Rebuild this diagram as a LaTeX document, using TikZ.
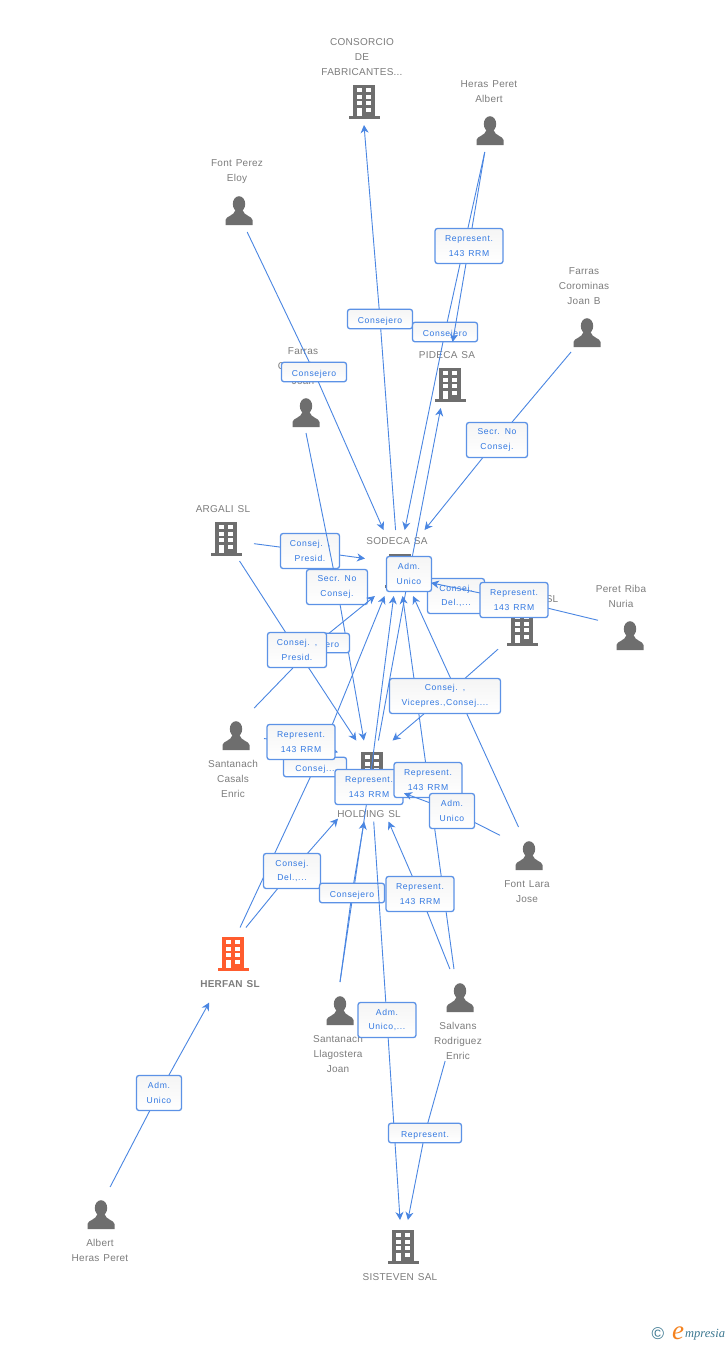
\documentclass[tikz,border=0pt]{standalone}
\usepackage{fontspec}
\usepackage{xcolor}
\setmainfont{Liberation Sans}[LetterSpace=2.5,WordSpace=1.3]
\newfontfamily\labelfont{Liberation Sans}[LetterSpace=7.5,WordSpace=1.3]
\newfontfamily\logofont{Liberation Serif}
\usetikzlibrary{arrows.meta}
\definecolor{linkblue}{RGB}{74,134,226}
\definecolor{boxblue}{RGB}{92,146,230}
\definecolor{textblue}{RGB}{50,120,225}
\definecolor{icongrey}{RGB}{110,110,110}
\definecolor{capgrey}{RGB}{125,125,125}
\definecolor{iconorange}{RGB}{255,92,46}
\definecolor{logoteal}{RGB}{60,120,145}
\definecolor{logoorange}{RGB}{245,130,30}
\tikzstyle{hub} = [rectangle, inner sep=0pt, outer sep=0pt]
\tikzstyle{caption} = [align=center, inner sep=0pt, text=capgrey, font=\fontsize{10}{15}\selectfont]
\tikzstyle{arrow} = [line width=0.9pt,-{Stealth[length=8pt,width=8pt,inset=2.5pt]},color=linkblue]
\tikzstyle{relation} = [rectangle, rounded corners=2.5pt, minimum height=35pt, inner sep=0pt, align=center, draw=boxblue, line width=1.3pt, top color=black!4, bottom color=white, text=textblue, font=\labelfont\fontsize{8.6}{14.6}\selectfont, execute at begin node={\rule{0pt}{10pt}}]
\tikzstyle{single} = [relation, minimum height=19.5pt]
\newcommand{\persona}[2]{
  \fill[icongrey] (#1,#2-7) ellipse (6.2 and 7.8);
  \fill[icongrey] (#1-13.5,#2+14) -- (#1-13.5,#2+9) .. controls (#1-13,#2+5) and (#1-5,#2+5) .. (#1-3.5,#2-1)
    -- (#1+3.5,#2-1) .. controls (#1+5,#2+5) and (#1+13,#2+5) .. (#1+13.5,#2+9) -- (#1+13.5,#2+14) -- cycle;
}
\newcommand{\tower}[3]{
  \fill[#3] (#1-11,#2-17) rectangle (#1+11,#2+15);
  \fill[#3] (#1-15.5,#2+14) rectangle (#1+15.5,#2+16.5);
  \foreach \wy in {-14,-7.5,-1}{
    \fill[white] (#1-7,#2+\wy) rectangle (#1-2,#2+\wy+4);
    \fill[white] (#1+2,#2+\wy) rectangle (#1+7,#2+\wy+4);
  }
  \fill[white] (#1-7,#2+6) rectangle (#1-2,#2+14);
  \fill[white] (#1+2,#2+6) rectangle (#1+7,#2+10);
}
\begin{document}
\begin{tikzpicture}[x=1pt,y=-1pt]
\useasboundingbox (0,0) rectangle (728,1345);
\fill[white] (0,0) rectangle (728,1345);

% Icons
\tower{364}{102}{icongrey}
\persona{490}{131}
\persona{239}{211}
\persona{587}{333}
\tower{450}{385}{icongrey}
\persona{306}{413}
\tower{226}{539}{icongrey}
\tower{400}{571}{icongrey}
\tower{522}{629}{icongrey}
\persona{630}{636}
\persona{236}{736}
\tower{372}{769}{icongrey}
\persona{529}{856}
\tower{233}{954}{iconorange}
\persona{340}{1011}
\persona{460}{998}
\persona{101}{1215}
\tower{403}{1247}{icongrey}

% Captions
\node (consorcioname) [caption] at (362,57) {CONSORCIO\\DE\\FABRICANTES...};
\node (herasname) [caption] at (489,91.5) {Heras Peret\\Albert};
\node (perezname) [caption] at (237,171.5) {Font Perez\\Eloy};
\node (farrasbname) [caption] at (584,286) {Farras\\Corominas\\Joan B};
\node (pidecaname) [caption] at (447,355) {PIDECA SA};
\node (farrasname) [caption] at (303,366) {Farras\\Corominas\\Joan};
\node (argaliname) [caption] at (223,509) {ARGALI SL};
\node (sodecaname) [caption] at (397,541) {SODECA SA};
\node (slname) [caption] at (552,599) {SL};
\node (peretname) [caption] at (621,596.5) {Peret Riba\\Nuria};
\node (casalsname) [caption] at (233,779) {Santanach\\Casals\\Enric};
\node (holdingname) [caption] at (369,814) {HOLDING SL};
\node (laraname) [caption] at (527,891.5) {Font Lara\\Jose};
\node (herfanname) [caption, font=\bfseries\fontsize{10}{15}\selectfont] at (230,984) {HERFAN SL};
\node (llagosteraname) [caption] at (338,1054) {Santanach\\Llagostera\\Joan};
\node (salvansname) [caption] at (458,1041) {Salvans\\Rodriguez\\Enric};
\node (albertname) [caption] at (100,1250.5) {Albert\\Heras Peret};
\node (sistevenname) [caption] at (400,1277) {SISTEVEN SAL};

% Entities
\node (consorcio) [hub, minimum width=80, minimum height=80] at (364,85) {};
\node (heras) [hub, minimum width=60, minimum height=74] at (488,115) {};
\node (perez) [hub, minimum width=60, minimum height=84] at (239,190) {};
\node (farrasb) [hub, minimum width=36, minimum height=38] at (587,333) {};
\node (pideca) [hub, minimum width=60, minimum height=66] at (447,375) {};
\node (farras) [hub, minimum width=60, minimum height=72] at (306,397) {};
\node (argali) [hub, minimum width=56, minimum height=42] at (226,540) {};
\node (sodeca) [hub, minimum width=66, minimum height=66] at (398,563) {};
\node (slfirm) [hub, minimum width=48, minimum height=48] at (522,628) {};
\node (peret) [hub, minimum width=64, minimum height=64] at (630,628) {};
\node (casals) [hub, minimum width=56, minimum height=56] at (236,736) {};
\node (holding) [hub, minimum width=66, minimum height=81] at (371,781) {};
\node (lara) [hub, minimum width=58, minimum height=46] at (529,850) {};
\node (herfan) [hub, minimum width=60, minimum height=75] at (230,965) {};
\node (llagostera) [hub, minimum width=60, minimum height=86] at (340,1025) {};
\node (salvans) [hub, minimum width=60, minimum height=92] at (458,1015) {};
\node (albert) [hub, minimum width=60, minimum height=56] at (101,1215) {};
\node (sisteven) [hub, minimum width=60, minimum height=60] at (402,1250) {};

% Relations above SODECA
\coordinate (c1) at (314,372);
\draw[arrow] (perez.-79) -- (c1) -- (sodeca);
\node (r1) [single, minimum width=65] at (c1) {Consejero};
\coordinate (c2) at (380,319);
\draw[arrow] (sodeca) -- (c2) -- (consorcio.south);
\node (r2) [single, minimum width=65] at (c2) {Consejero};
\coordinate (c3) at (445,332);
\draw[arrow] (heras.-95) -- (c3) -- (sodeca);
\node (r3) [single, minimum width=65] at (c3) {Consejero};
\coordinate (c4) at (469,246);
\draw[arrow] (heras.-95) -- (c4) -- (pideca);
\node (r4) [relation, minimum width=68] at (c4) {Represent.\\143 RRM};
\coordinate (c5) at (497,440);
\draw[arrow] (farrasb) -- (c5) -- (sodeca);
\node (r5) [relation, minimum width=61] at (c5) {Secr. No\\Consej.};
\coordinate (c6) at (310,551);
\draw[arrow] (argali) -- (c6) -- (sodeca);
\node (r6) [relation, minimum width=59] at (c6) {Consej. ,\\Presid.};
\coordinate (c7) at (337,587);
\draw[arrow] (farras.south) -- (c7) -- (holding);
\node (r7) [relation, minimum width=61] at (c7) {Secr. No\\Consej.};

% Relations around HOLDING
\coordinate (c8) at (317,643);
\draw[arrow] (casals.57) -- (c8) -- (sodeca.-125);
\node (r8) [single, minimum width=65] at (c8) {Consejero};
\coordinate (c9) at (297,650);
\draw[arrow] (argali) -- (c9) -- (holding.110);
\node (r9) [relation, minimum width=59] at (c9) {Consej. ,\\Presid.};
\coordinate (c10) at (315,767);
\draw[arrow] (herfan.75) -- (c10) -- (sodeca);
\node (r10) [single, minimum width=63] at (c10) {Consej...};
\coordinate (c11) at (301,742);
\draw[arrow] (casals) -- (c11) -- (holding.139);
\node (r11) [relation, minimum width=68] at (c11) {Represent.\\143 RRM};
\coordinate (c12) at (369,787);
\draw[arrow] (llagostera.north) -- (c12) -- (sodeca);
\node (r12) [relation, minimum width=68] at (c12) {Represent.\\143 RRM};
\coordinate (c13) at (428,780);
\draw[arrow] (salvans.95) -- (c13) -- (sodeca);
\node (r13) [relation, minimum width=68] at (c13) {Represent.\\143 RRM};
\draw[arrow] (lara) -- (sodeca);
\coordinate (c14) at (445,696);
\draw[arrow] (slfirm) -- (c14) -- (holding.62);
\node (r14) [relation, minimum width=111] at (c14) {Consej. ,\\Vicepres.,Consej....};
\coordinate (c15) at (452,811);
\draw[arrow] (lara) -- (c15) -- (holding);
\node (r15) [relation, minimum width=45] at (c15) {Adm.\\Unico};
\coordinate (c16) at (292,871);
\draw[arrow] (herfan.67) -- (c16) -- (holding);
\node (r16) [relation, minimum width=57] at (c16) {Consej.\\Del.,...};
\coordinate (c17) at (352,893);
\draw[arrow] (llagostera.north) -- (c17) -- (holding);
\node (r17) [single, minimum width=65] at (c17) {Consejero};
\coordinate (c18) at (420,894);
\draw[arrow] (salvans.100) -- (c18) -- (holding);
\node (r18) [relation, minimum width=68] at (c18) {Represent.\\143 RRM};

% Relations below
\coordinate (c19) at (387,1020);
\draw[arrow] (holding) -- (c19) -- (sisteven);
\node (r19) [relation, minimum width=58] at (c19) {Adm.\\Unico,...};
\coordinate (c20) at (425,1133);
\draw[arrow] (salvans) -- (c20) -- (sisteven);
\node (r20) [single, minimum width=73] at (c20) {Represent.};
\coordinate (c21) at (159,1093);
\draw[arrow] (albert.72) -- (c21) -- (herfan);
\node (r21) [relation, minimum width=45] at (c21) {Adm.\\Unico};

% Relations last on top
\coordinate (c22) at (456,596);
\draw[arrow] (slfirm) -- (c22) -- (sodeca.-31);
\node (r22) [relation, minimum width=57] at (c22) {Consej.\\Del.,...};
\coordinate (c23) at (409,574);
\draw[arrow] (holding) -- (c23) -- (pideca);
\node (r23) [relation, minimum width=45] at (c23) {Adm.\\Unico};
\coordinate (c24) at (514,600);
\draw[arrow] (peret) -- (c24) -- (sodeca.-31);
\node (r24) [relation, minimum width=68] at (c24) {Represent.\\143 RRM};

% Logo
\node (copyr) [inner sep=0pt, text=logoteal, font=\fontsize{17}{17}\selectfont] at (658,1334) {©};
\node (logoe) [inner sep=0pt, text=logoorange, font=\logofont\itshape\fontsize{27}{27}\selectfont] at (678,1333) {e};
\node (logoname) [inner sep=0pt, anchor=west, text=logoteal, font=\logofont\itshape\fontsize{12.5}{12.5}\selectfont] at (685,1335) {mpresia};
\end{tikzpicture}
\end{document}
